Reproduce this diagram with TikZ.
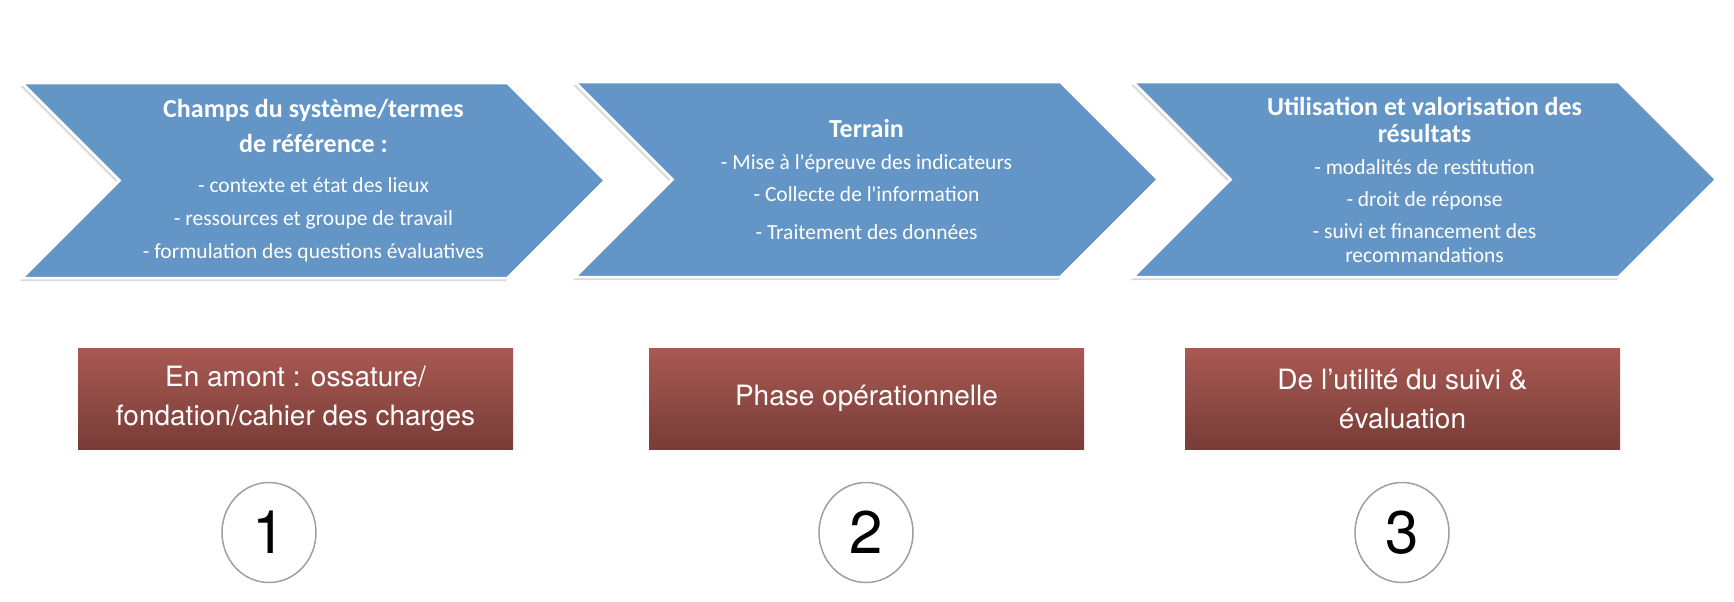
\documentclass[tikz,border=0pt]{standalone}
\usepackage{fontspec}
\setmainfont{Carlito}
\newfontfamily\helv{TeX Gyre Heros}
\usetikzlibrary{shapes.symbols,shapes.geometric,shadows}
\definecolor{chevblue}{RGB}{99,149,198}
\definecolor{boxtop}{RGB}{168,89,82}
\definecolor{boxbot}{RGB}{121,60,55}
\definecolor{ringgray}{RGB}{160,160,160}
\tikzstyle{chev}=[signal,signal from=west,signal to=east,fill=chevblue,draw=white,line width=2.5pt,minimum width=583pt,minimum height=195pt,inner sep=0pt,text=white,align=center,font=\fontsize{21.5}{32}\selectfont,drop shadow={shadow xshift=-2pt,shadow yshift=-3pt,opacity=.3}]
\tikzstyle{phase}=[rectangle,top color=boxtop,bottom color=boxbot,minimum width=435pt,minimum height=101pt,text=white,align=center,font=\helv\fontsize{28}{39}\selectfont]
\tikzstyle{num}=[ellipse,draw=ringgray,line width=1.5pt,minimum width=94pt,minimum height=100pt,inner sep=0pt,font=\helv\fontsize{60}{60}\selectfont]
\newcommand{\ttl}[1]{{\bfseries\fontsize{26}{35}\selectfont #1}}

\begin{document}
\begin{tikzpicture}[x=1pt,y=-1pt]
\useasboundingbox (0,0) rectangle (1734,602);
% chevrons
\node[chev] (ch1) at (313.5,180.5) {\ttl{Champs du syst\`eme/termes}\\[3pt]
\ttl{de r\'ef\'erence :}\\[8pt]
- contexte et \'etat des lieux\\[1pt]
- ressources et groupe de travail\\[1pt]
- formulation des questions \'evaluatives};
\node[chev] (ch2) at (866.5,179.5) {\ttl{Terrain}\\
- Mise \`a l\textquotesingle\'epreuve des indicateurs\\
- Collecte de l\textquotesingle information\\[6pt]
- Traitement des donn\'ees};
\node[chev] (ch3) at (1424.5,179.5) {\ttl{Utilisation et valorisation des}\\[-5pt]
\ttl{r\'esultats}\\
- modalit\'es de restitution\\
- droit de r\'eponse\\
- suivi et financement des\\[-8pt]
recommandations};
% phases
\node[phase] (ph1) at (295.5,398.5) {En amont : ossature/\\fondation/cahier des charges};
\node[phase] (ph2) at (866.5,398.5) {Phase op\'erationnelle};
\node[phase] (ph3) at (1402.5,398.5) {De l’utilit\'e du suivi \&\\\'evaluation};
% numbers
\node[num] (n1) at (269,532.5) {1};
\node[num] (n2) at (866,532.5) {2};
\node[num] (n3) at (1402,532.5) {3};
\end{tikzpicture}
\end{document}
